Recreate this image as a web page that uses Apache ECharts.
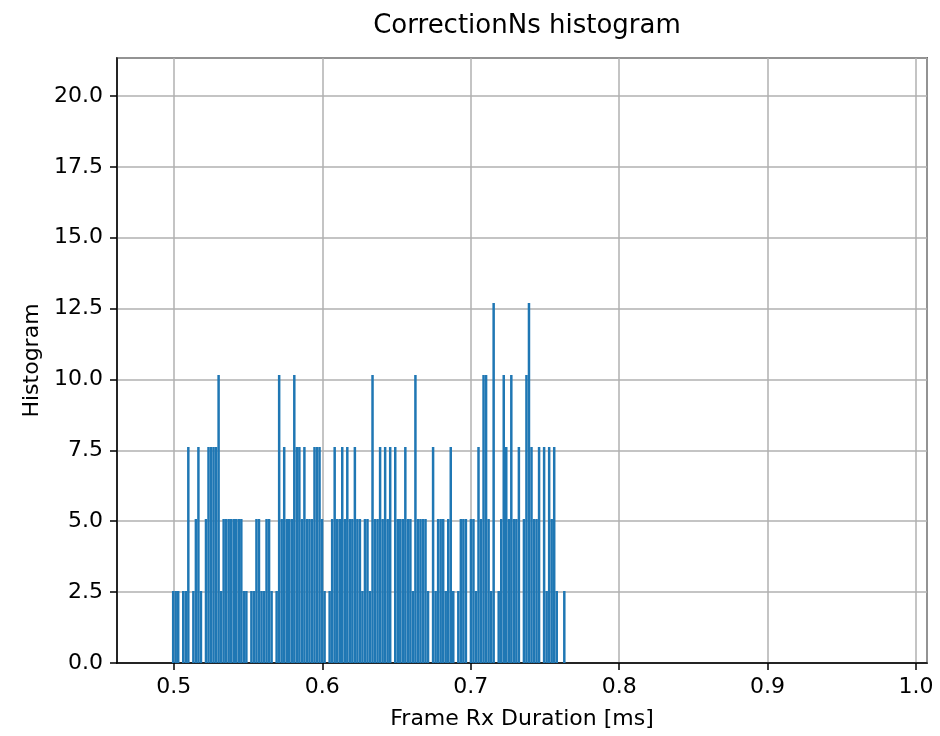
<!DOCTYPE html>
<html>
<head>
<meta charset="utf-8">
<title>CorrectionNs histogram</title>
<script src="https://cdn.jsdelivr.net/npm/echarts@6/dist/echarts.min.js"></script>
<style>
    html, body { margin: 0; padding: 0; background: #fff; }
    #chart { width: 940px; height: 736px; }
</style>
</head>
<body>
<div id="chart"></div>
<script>
// histogram bins (ms)
var binStart = 0.4987;
var binWidth = 0.0017;

// bar heights per bin
var heights = [
    2.54, 2.54, 2.54, 0, 2.54, 2.54, 7.62, 0, 2.54, 5.08,
    7.62, 2.54, 0, 5.08, 7.62, 7.62, 7.62, 7.62, 10.16, 2.54,
    5.08, 5.08, 5.08, 5.08, 5.08, 5.08, 5.08, 5.08, 2.54, 2.54,
    0, 2.54, 2.54, 5.08, 5.08, 2.54, 2.54, 5.08, 5.08, 2.54,
    0, 2.54, 10.16, 5.08, 7.62, 5.08, 5.08, 5.08, 10.16, 7.62,
    7.62, 5.08, 7.62, 5.08, 5.08, 5.08, 7.62, 7.62, 7.62, 5.08,
    2.54, 0, 2.54, 5.08, 7.62, 5.08, 5.08, 7.62, 5.08, 7.62,
    5.08, 5.08, 7.62, 5.08, 5.08, 2.54, 5.08, 5.08, 2.54, 10.16,
    5.08, 5.08, 7.62, 5.08, 7.62, 5.08, 7.62, 0, 7.62, 5.08,
    5.08, 5.08, 7.62, 5.08, 5.08, 2.54, 10.16, 5.08, 5.08, 5.08,
    5.08, 2.54, 0, 7.62, 2.54, 5.08, 5.08, 5.08, 2.54, 5.08,
    7.62, 2.54, 0, 2.54, 5.08, 5.08, 5.08, 0, 5.08, 5.08,
    2.54, 7.62, 5.08, 10.16, 10.16, 5.08, 2.54, 12.7, 0, 2.54,
    5.08, 10.16, 7.62, 5.08, 10.16, 5.08, 5.08, 7.62, 0, 5.08,
    10.16, 12.7, 7.62, 5.08, 5.08, 7.62, 0, 7.62, 2.54, 7.62,
    5.08, 7.62, 2.54, 0, 0, 2.54
];

var xTicks = [0.5, 0.6, 0.7, 0.8, 0.9, 1.0];
var yTicks = [0, 2.5, 5, 7.5, 10, 12.5, 15, 17.5, 20];

var barData = [];
for (var i = 0; i < heights.length; i++) {
    barData.push([binStart + (i + 0.5) * binWidth, heights[i]]);
}

var font = 'DejaVu Sans';
var chart = echarts.init(document.getElementById('chart'), null, {renderer: 'canvas'});
var option = {
    backgroundColor: '#fff',
    animation: false,
    title: {
        text: 'CorrectionNs histogram',
        left: 522,
        top: 8,
        textAlign: 'center',
        textStyle: {fontFamily: font, fontSize: 26, fontWeight: 'normal', color: '#000'}
    },
    grid: {
        left: 117,
        right: 13,
        top: 58,
        bottom: 73,
        show: true,
        borderColor: '#000',
        borderWidth: 1.5,
        containLabel: false
    },
    xAxis: {
        type: 'value',
        min: 0.4617,
        max: 1.0074,
        minInterval: 0.1,
        maxInterval: 0.1,
        name: 'Frame Rx Duration [ms]',
        nameLocation: 'middle',
        nameGap: 45,
        nameTextStyle: {fontFamily: font, fontSize: 22, color: '#000'},
        axisLine: {show: true, lineStyle: {color: '#000', width: 1.5}},
        axisTick: {show: true, inside: false, length: 7, lineStyle: {color: '#000', width: 1.5}},
        axisLabel: {
            fontFamily: font, fontSize: 22, color: '#000', margin: 13,
            showMinLabel: false, showMaxLabel: false,
            formatter: function (v) {
                return xTicks.indexOf(Math.round(v * 10) / 10) >= 0 ? v.toFixed(1) : '';
            }
        },
        splitLine: {show: true, lineStyle: {color: '#b0b0b0', width: 1.5}}
    },
    yAxis: {
        type: 'value',
        min: 0,
        max: 21.34,
        minInterval: 2.5,
        maxInterval: 2.5,
        name: 'Histogram',
        nameLocation: 'middle',
        nameGap: 73,
        nameTextStyle: {fontFamily: font, fontSize: 22, color: '#000'},
        axisLine: {show: true, lineStyle: {color: '#000', width: 1.5}},
        axisTick: {show: true, inside: false, length: 7, lineStyle: {color: '#000', width: 1.5}},
        axisLabel: {
            fontFamily: font, fontSize: 22, color: '#000', margin: 14,
            showMaxLabel: false,
            formatter: function (v) {
                return yTicks.indexOf(v) >= 0 ? v.toFixed(1) : '';
            }
        },
        splitLine: {show: true, lineStyle: {color: '#b0b0b0', width: 1.5}}
    },
    series: [
        {
            type: 'bar',
            data: barData,
            barWidth: 2.5,
            itemStyle: {color: '#1f77b4'},
            z: 3
        }
    ]
};
chart.setOption(option);
</script>
</body>
</html>
